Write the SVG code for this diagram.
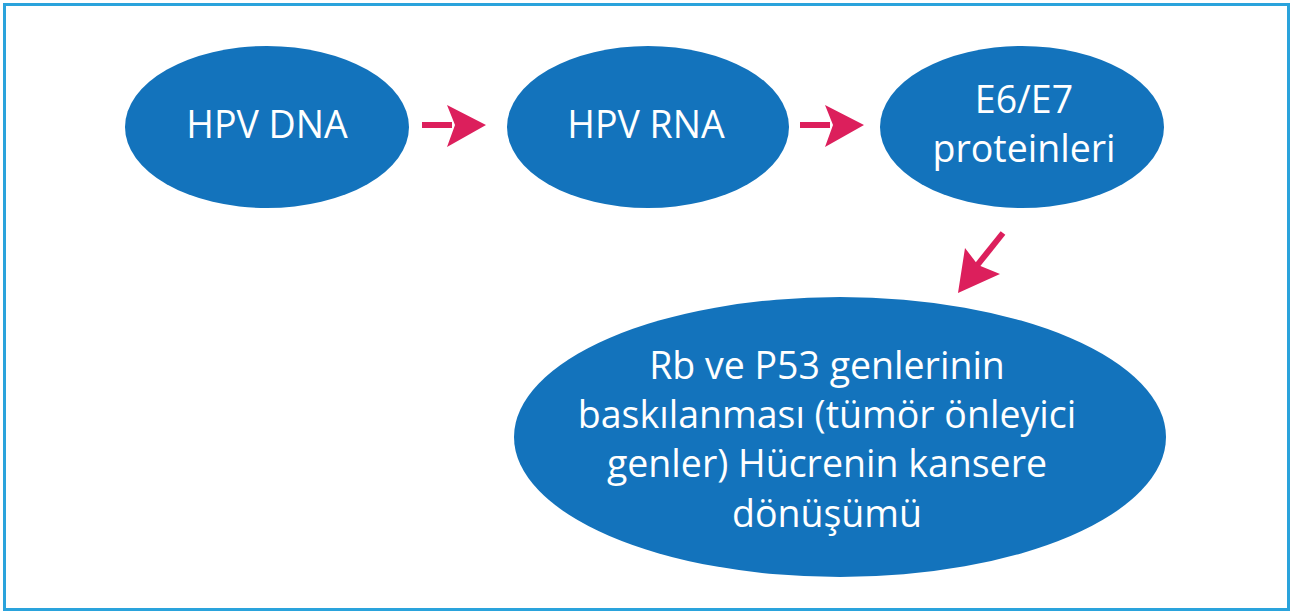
<svg xmlns="http://www.w3.org/2000/svg" width="1302" height="615" viewBox="0 0 1302 615">
<style>
.n{fill:#1373bc}
.t{fill:#fff;font-family:"Open Sans","Liberation Sans",sans-serif;font-size:37.5px;text-anchor:middle}
.c{stroke:#dc1f5c;stroke-width:6;fill:none}
.h{fill:#dc1f5c}
</style>
<rect x="0" y="0" width="1302" height="615" fill="#fff"/>
<rect x="4.5" y="4.5" width="1284" height="605" fill="none" stroke="#2aa3dc" stroke-width="3"/>
<g id="n1"><ellipse class="n" cx="267" cy="127" rx="142" ry="81"/><text class="t" x="267" y="138">HPV DNA</text></g>
<g id="n2"><ellipse class="n" cx="648" cy="127" rx="141" ry="81"/><text class="t" x="646" y="138">HPV RNA</text></g>
<g id="n3"><ellipse class="n" cx="1022" cy="127" rx="142" ry="81"/><text class="t" x="1024" y="113">E6/E7</text><text class="t" x="1024" y="162">proteinleri</text></g>
<g id="n4"><ellipse class="n" cx="840" cy="437" rx="326" ry="140"/>
<text class="t" x="827" y="379">Rb ve P53 genlerinin</text>
<text class="t" x="827" y="428">baskılanması (tümör önleyici</text>
<text class="t" x="827" y="477">genler) Hücrenin kansere</text>
<text class="t" x="827" y="527">dönüşümü</text></g>
<g id="connectors">
<line class="c" x1="422" y1="125" x2="452" y2="125"/><polygon class="h" points="447,105 486,125 447,147 455,125"/>
<line class="c" x1="800" y1="125" x2="830" y2="125"/><polygon class="h" points="825,105 864,125 825,147 833,125"/>
<line class="c" x1="1003" y1="233" x2="975" y2="268"/><polygon class="h" points="965,248 958,293 1000,274 978,265"/>
</g>
</svg>
